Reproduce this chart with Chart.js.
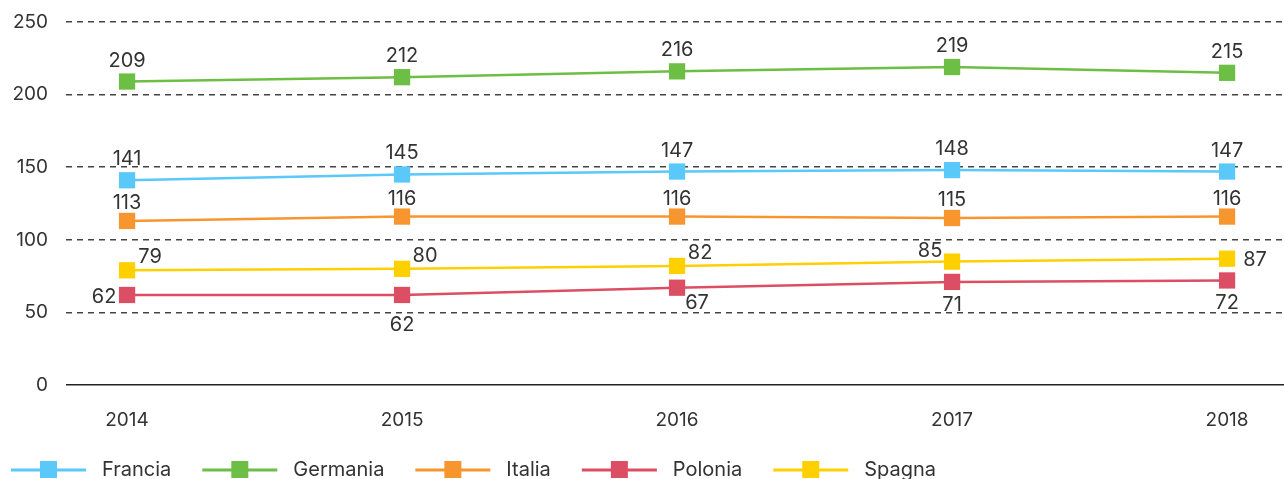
<!DOCTYPE html>
<html>
<head>
<meta charset="utf-8">
<script src="https://cdn.jsdelivr.net/npm/chart.js@4/dist/chart.umd.min.js"></script>
<style>
  html, body { margin: 0; padding: 0; background: #fff; }
  #wrap { width: 1284px; height: 479px; }
</style>
</head>
<body>
<div id="wrap"><canvas id="chart"></canvas></div>
<script>
const years = [2014, 2015, 2016, 2017, 2018];
const yTicks = [0, 50, 100, 150, 200, 250];
const francia = [141, 145, 147, 148, 147];
const germania = [209, 212, 216, 219, 215];
const italia = [113, 116, 116, 115, 116];
const polonia = [62, 62, 67, 71, 72];
const spagna = [79, 80, 82, 85, 87];

// where each value label sits relative to its marker
const labelSpots = {
  Francia: ["top", "top", "top", "top", "top"],
  Germania: ["top", "top", "top", "top", "top"],
  Italia: ["topNear", "topNear", "topNear", "topNear", "topNear"],
  Polonia: ["left", "belowFar", "belowRight", "below", "below"],
  Spagna: ["topRight", "topRight", "topRight", "topLeft", "right"]
};
const spotOffsets = {
  top: [0, -21],
  topNear: [0, -18],
  below: [0, 23],
  belowFar: [0, 30],
  left: [-23, 2],
  right: [28, 1],
  topRight: [23, -13],
  topLeft: [-22, -11],
  belowRight: [20, 15]
};

const font = "Inter, 'Noto Sans', sans-serif";
const ink = "#333";

const series = [
  { label: "Francia", data: francia, color: "#5bc8fa" },
  { label: "Germania", data: germania, color: "#6dbe45" },
  { label: "Italia", data: italia, color: "#f7962f" },
  { label: "Polonia", data: polonia, color: "#dc4e63" },
  { label: "Spagna", data: spagna, color: "#ffd000" }
];

const legendSwatch = color => {
  const c = document.createElement("canvas");
  c.width = 77; c.height = 18;
  const g = c.getContext("2d");
  g.strokeStyle = color;
  g.lineWidth = 3;
  g.beginPath(); g.moveTo(1, 9); g.lineTo(76, 9); g.stroke();
  g.fillStyle = color;
  g.fillRect(30, 0, 17, 17);
  return c;
};

const valueLabels = {
  id: "valueLabels",
  afterLayout(chart) {
    // legend sits a bit lower and further left than the default box
    const lg = chart.legend;
    const h = lg.height;
    lg.left = 0;
    lg.top = 455;
    lg.bottom = lg.top + h;
  },
  afterDatasetsDraw(chart) {
    const ctx = chart.ctx;
    ctx.save();
    ctx.font = "20px " + font;
    ctx.fillStyle = ink;
    ctx.textAlign = "center";
    ctx.textBaseline = "middle";
    chart.data.datasets.forEach((ds, di) => {
      const meta = chart.getDatasetMeta(di);
      meta.data.forEach((pt, i) => {
        const [dx, dy] = spotOffsets[labelSpots[ds.label][i]];
        ctx.fillText(String(ds.data[i].y), pt.x + dx, pt.y + dy);
      });
    });
    ctx.restore();
  }
};

new Chart(document.getElementById("chart"), {
  type: "line",
  data: {
    datasets: series.map(s => ({
      label: s.label,
      data: years.map((y, i) => ({ x: y, y: s.data[i] })),
      borderColor: s.color,
      backgroundColor: s.color,
      borderWidth: 2.5,
      pointStyle: "rect",
      pointRadius: 11.5,
      pointHoverRadius: 11.5,
      pointBorderWidth: 0,
      tension: 0,
      fill: false
    }))
  },
  options: {
    responsive: true,
    maintainAspectRatio: false,
    animation: false,
    layout: { autoPadding: false, padding: { top: 0, right: 0, left: 13, bottom: 0 } },
    plugins: {
      tooltip: { enabled: false },
      legend: {
        position: "bottom",
        align: "start",
        labels: {
          usePointStyle: true,
          pointStyleWidth: 87,
          padding: 5,
          color: ink,
          font: { family: font, size: 20 },
          generateLabels: chart => chart.data.datasets.map((ds, i) => ({
            text: ds.label + "\u2003",
            pointStyle: legendSwatch(ds.borderColor),
            fillStyle: ds.borderColor,
            strokeStyle: ds.borderColor,
            lineWidth: 0,
            fontColor: ink,
            datasetIndex: i,
            hidden: false
          }))
        }
      }
    },
    scales: {
      x: {
        type: "linear",
        min: 2013.778,
        max: 2018.207,
        afterBuildTicks: axis => { axis.ticks = years.map(v => ({ value: v })); },
        afterFit: axis => { axis.height = 94 - axis.chart.legend.height; },
        grid: { display: false },
        border: { display: false },
        ticks: {
          color: ink,
          padding: 16,
          font: { family: font, size: 19 },
          callback: v => String(v),
          maxRotation: 0
        }
      },
      y: {
        min: 0,
        max: 250,
        afterBuildTicks: axis => { axis.ticks = yTicks.map(v => ({ value: v })); },
        afterFit: axis => {
          axis.width = 53;
          axis.paddingTop = 22;
          axis.paddingBottom = 0;
        },
        grid: {
          drawTicks: false,
          color: c => c.tick && c.tick.value === 0 ? "#222" : "#444",
          lineWidth: 1.6
        },
        border: {
          display: false,
          dash: c => c.tick && c.tick.value === 0 ? [] : [6, 5]
        },
        ticks: {
          color: ink,
          padding: 18,
          font: { family: font, size: 19 }
        }
      }
    }
  },
  plugins: [valueLabels]
});
</script>
</body>
</html>
